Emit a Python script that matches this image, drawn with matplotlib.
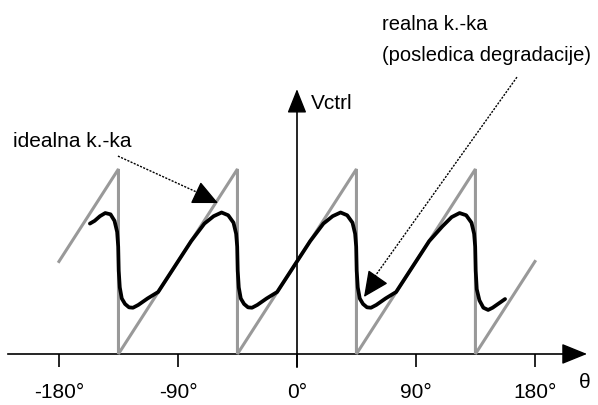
import matplotlib
matplotlib.use('Agg')
import matplotlib.pyplot as plt

# ideal characteristic (sawtooth), theta in degrees, V relative to tooth height
theta_ideal = [-180, -135, -135, -45, -45, 45, 45, 135, 135, 180]
v_ideal = [0.5, 1.0, 0.0, 1.0, 0.0, 1.0, 0.0, 1.0, 0.0, 0.5]

theta_real = [-156.6, -153, -149, -145, -141, -138, -136, -135.2, -134.8, -134, -132.5, -130, -127, -124, -120, -113, -105, -95, -90,
              -80, -70, -63, -57, -52, -48, -46, -45.2, -44.8, -44, -42.5, -40, -37, -34, -30, -23, -15, -5, 0,
              10, 20, 27, 33, 38, 42, 44, 44.8, 45.2, 46, 47.5, 50, 53, 56, 60, 67, 75, 85, 90,
              100, 110, 117, 123, 128, 132, 134, 134.8, 135.2, 136, 138, 141, 144.6, 148, 151, 154, 157.4]
v_real = [0.705, 0.72, 0.745, 0.762, 0.755, 0.72, 0.66, 0.58, 0.45, 0.36, 0.30, 0.27, 0.252, 0.25, 0.265, 0.30, 0.335, 0.445, 0.50,
          0.61, 0.705, 0.745, 0.765, 0.75, 0.71, 0.65, 0.58, 0.45, 0.36, 0.30, 0.27, 0.252, 0.25, 0.265, 0.30, 0.335, 0.445, 0.50,
          0.61, 0.705, 0.745, 0.765, 0.75, 0.71, 0.65, 0.58, 0.45, 0.36, 0.30, 0.27, 0.252, 0.25, 0.265, 0.30, 0.335, 0.445, 0.50,
          0.61, 0.69, 0.74, 0.762, 0.75, 0.71, 0.65, 0.58, 0.45, 0.35, 0.29, 0.25, 0.238, 0.25, 0.265, 0.28, 0.297]

tick_pos = [-180, -90, 0, 90, 180]
tick_labels = ['-180°', '-90°', '0°', '90°', '180°']

fnt = ['Liberation Sans', 'DejaVu Sans']
fs = 15

fig = plt.figure(figsize=(5.98, 4.05), dpi=100)
ax = fig.add_axes([0, 0, 1, 1])
ax.set_xlim(-224.6, 227.7)
ax.set_ylim(-0.276, 1.914)
ax.axis('off')

# axes with arrows
ax.plot([-218.6, 205], [0, 0], color='black', lw=1.2)
ax.annotate('', xy=(219.4, 0), xytext=(-22, 0), textcoords='offset pixels',
            arrowprops=dict(arrowstyle='-|>,head_length=1.6,head_width=0.65', mutation_scale=10,
                            color='black', lw=1, shrinkA=0, shrinkB=0))
ax.plot([0, 0], [-0.07, 1.33], color='black', lw=1.2)
ax.annotate('', xy=(0, 1.432), xytext=(0, -21), textcoords='offset pixels',
            arrowprops=dict(arrowstyle='-|>,head_length=1.5,head_width=0.6', mutation_scale=10,
                            color='black', lw=1, shrinkA=0, shrinkB=0))
ax.vlines(tick_pos, -0.07, 0, color='black', lw=1.2)
for p, lab in zip(tick_pos, tick_labels):
    ax.text(p, -0.21, lab, ha='center', va='center', fontsize=fs, family=fnt)
ax.text(217.8, -0.157, 'θ', ha='center', va='center', fontsize=fs, family=fnt)
ax.text(10.6, 1.357, 'Vctrl', ha='left', va='center', fontsize=fs, family=fnt)

# curves
ax.plot(theta_ideal, v_ideal, color='#999999', lw=2.2, solid_joinstyle='miter')
ax.plot(theta_real, v_real, color='black', lw=2.7, solid_joinstyle='round', solid_capstyle='round')

# annotations
ax.text(-214.8, 1.151, 'idealna k.-ka', ha='left', va='center', fontsize=fs, family=fnt)
ax.plot([-135.4, -65], [1.070, 0.84], color='black', lw=1, linestyle=(0, (1.5, 1)))
ax.annotate('', xy=(-59.7, 0.816), xytext=(-20, 9.4), textcoords='offset pixels',
            arrowprops=dict(arrowstyle='-|>,head_length=1.6,head_width=0.75', mutation_scale=10,
                            color='black', lw=1, shrinkA=0, shrinkB=0))

ax.text(64.3, 1.784, 'realna k.-ka', ha='left', va='center', fontsize=fs - 0.5, family=fnt)
ax.text(64.3, 1.616, '(posledica degradacije)', ha='left', va='center', fontsize=fs - 0.5, family=fnt)
ax.plot([166.4, 57], [1.497, 0.40], color='black', lw=1, linestyle=(0, (1.5, 1)))
ax.annotate('', xy=(50.7, 0.308), xytext=(12.6, 18.1), textcoords='offset pixels',
            arrowprops=dict(arrowstyle='-|>,head_length=1.6,head_width=0.75', mutation_scale=10,
                            color='black', lw=1, shrinkA=0, shrinkB=0))

fig.savefig('out.png', dpi=100)
plt.close(fig)
